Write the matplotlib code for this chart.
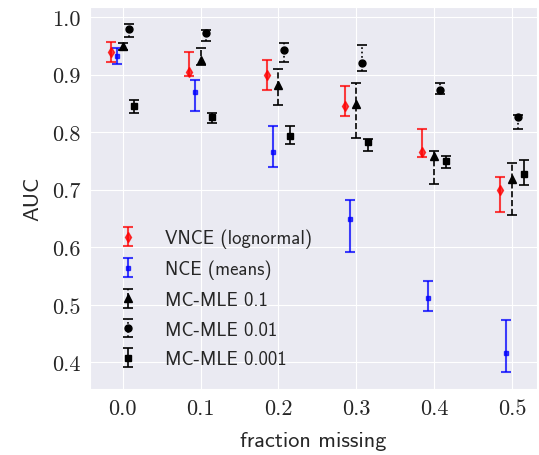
import numpy as np
import matplotlib
matplotlib.use("Agg")
import matplotlib.pyplot as plt
import seaborn as sns

sns.set_style("darkgrid", {"grid.linewidth": 1.6})

# fraction of missing data
frac = np.array([0.0, 0.1, 0.2, 0.3, 0.4, 0.5])

# AUC centre, upper and lower end of the error bars
vnce = [0.940, 0.904, 0.900, 0.845, 0.765, 0.700]
vnce_hi = [0.957, 0.939, 0.925, 0.880, 0.806, 0.722]
vnce_lo = [0.922, 0.897, 0.873, 0.828, 0.756, 0.661]

nce = [0.932, 0.869, 0.766, 0.649, 0.512, 0.416]
nce_hi = [0.947, 0.890, 0.811, 0.682, 0.542, 0.474]
nce_lo = [0.918, 0.836, 0.740, 0.591, 0.490, 0.384]

mc1 = [0.950, 0.925, 0.882, 0.848, 0.759, 0.719]
mc1_hi = [0.955, 0.946, 0.910, 0.886, 0.767, 0.747]
mc1_lo = [0.943, 0.917, 0.847, 0.790, 0.710, 0.656]

mc01 = [0.979, 0.972, 0.943, 0.920, 0.873, 0.827]
mc01_hi = [0.987, 0.977, 0.954, 0.952, 0.885, 0.830]
mc01_lo = [0.965, 0.959, 0.922, 0.907, 0.866, 0.806]

mc001 = [0.845, 0.826, 0.794, 0.782, 0.749, 0.727]
mc001_hi = [0.856, 0.834, 0.810, 0.788, 0.759, 0.751]
mc001_lo = [0.833, 0.815, 0.780, 0.767, 0.738, 0.708]

labels = ["VNCE (lognormal)", "NCE (means)", "MC-MLE 0.1", "MC-MLE 0.01", "MC-MLE 0.001"]
yticks = [0.4, 0.5, 0.6, 0.7, 0.8, 0.9, 1.0]


def yerr(c, hi, lo):
    c = np.array(c)
    return [c - np.array(lo), np.array(hi) - c]


fig = plt.figure(figsize=(5.39, 4.56), dpi=100)
ax = fig.add_axes([0.167, 0.145, 0.829, 0.837])

cap = 3.8
ax.errorbar(frac - 0.015, vnce, yerr=yerr(vnce, vnce_hi, vnce_lo), fmt='d', color='red',
            alpha=0.75, ms=5, capsize=cap, elinewidth=1.5, capthick=1.5, label=labels[0])
ax.errorbar(frac - 0.0075, nce, yerr=yerr(nce, nce_hi, nce_lo), fmt='s', color='blue',
            alpha=0.75, ms=2.5, capsize=cap, elinewidth=1.5, capthick=1.5, label=labels[1])
e1 = ax.errorbar(frac, mc1, yerr=yerr(mc1, mc1_hi, mc1_lo), fmt='^', color='black',
                 ms=6, capsize=cap, elinewidth=1.2, capthick=1.2, label=labels[2])
e1[2][0].set_linestyle('--')
e2 = ax.errorbar(frac + 0.0075, mc01, yerr=yerr(mc01, mc01_hi, mc01_lo), fmt='o', color='black',
                 ms=5, capsize=cap, elinewidth=1.2, capthick=1.2, label=labels[3])
e2[2][0].set_linestyle(':')
ax.errorbar(frac + 0.015, mc001, yerr=yerr(mc001, mc001_hi, mc001_lo), fmt='s', color='black',
            ms=5, capsize=cap, elinewidth=1.2, capthick=1.2, label=labels[4])

ax.set_xlim(-0.042, 0.532)
ax.set_ylim(0.354, 1.017)
ax.set_xticks(frac)
ax.set_yticks(yticks)
ax.set_xticklabels(["%.1f" % v for v in frac], fontfamily='cmr10', fontsize=16)
ax.set_yticklabels(["%.1f" % v for v in yticks], fontfamily='cmr10', fontsize=16)
ax.set_xlabel("fraction missing", fontfamily='cmss10', fontsize=16, labelpad=9)
ax.set_ylabel("AUC", fontfamily='cmss10', fontsize=16, labelpad=7)

leg = ax.legend(loc='lower left', bbox_to_anchor=(0.005, 0.01), frameon=False,
                prop={'family': 'cmss10', 'size': 13.5}, handletextpad=1.0, labelspacing=0.62)

fig.savefig("out.png", dpi=100)
